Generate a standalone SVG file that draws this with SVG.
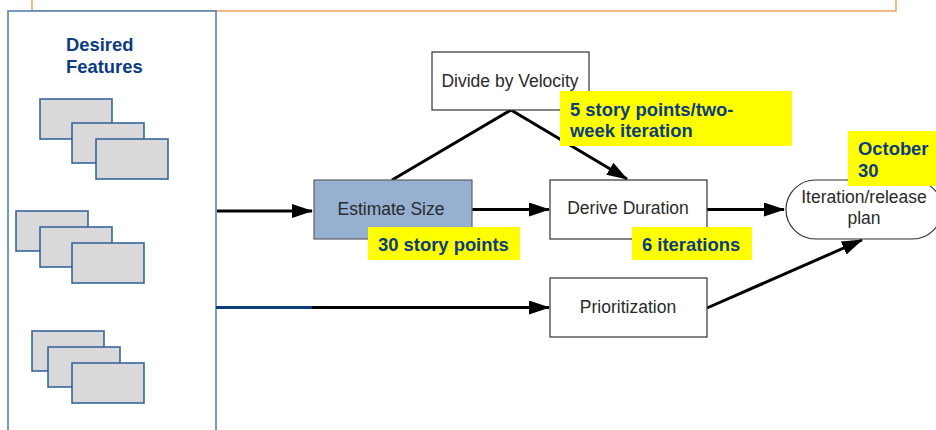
<svg xmlns="http://www.w3.org/2000/svg" width="936" height="430" viewBox="0 0 936 430">
<style>
.node{fill:#fff;stroke:#333;stroke-width:1.2}
.ntxt{font-family:"Liberation Sans",Arial,sans-serif;font-size:17.5px;fill:#2a2a2a;text-anchor:middle}
.card{fill:#d9d9d9;stroke:#2d5d97;stroke-width:1.5}
.lbl{fill:#ffff00}
.ltxt{font-family:"Liberation Sans",Arial,sans-serif;font-size:18.4px;font-weight:bold;fill:#0b3d7e}
.conn{stroke:#000;stroke-width:3;fill:none}
</style>
<defs>
<marker id="arr" markerUnits="userSpaceOnUse" markerWidth="22" markerHeight="16" refX="20" refY="7" orient="auto">
<path d="M0,0 L21,7 L0,14 z" fill="#000"/>
</marker>
</defs>
<rect width="936" height="430" fill="#fff"/>
<rect id="topbox" x="32" y="-10" width="864" height="21" fill="none" stroke="#f4a35f" stroke-width="1.5"/>
<g id="features">
<rect x="8" y="11" width="208" height="440" fill="#fff" stroke="#4a78ab" stroke-width="1.5"/>
<text class="ltxt" x="66" y="51">Desired</text>
<text class="ltxt" x="66" y="73">Features</text>
<rect class="card" x="40" y="99" width="72" height="40"/>
<rect class="card" x="72" y="123" width="72" height="40"/>
<rect class="card" x="96" y="139" width="72" height="40"/>
<rect class="card" x="16" y="211" width="72" height="40"/>
<rect class="card" x="40" y="227" width="72" height="40"/>
<rect class="card" x="72" y="243" width="72" height="40"/>
<rect class="card" x="32" y="331" width="72" height="40"/>
<rect class="card" x="48" y="347" width="72" height="40"/>
<rect class="card" x="72" y="363" width="72" height="40"/>
</g>
<g id="connectors">
<line class="conn" x1="217" y1="211" x2="312" y2="211" marker-end="url(#arr)"/>
<line x1="216" y1="307.5" x2="312" y2="307.5" stroke="#0b3d7e" stroke-width="3"/>
<line class="conn" x1="312" y1="307.5" x2="549" y2="307.5" marker-end="url(#arr)"/>
<line class="conn" x1="392" y1="180" x2="511" y2="110"/>
<line class="conn" x1="511" y1="110" x2="627" y2="179" marker-end="url(#arr)"/>
<line class="conn" x1="471" y1="209.5" x2="549" y2="209.5" marker-end="url(#arr)"/>
<line class="conn" x1="707" y1="209.5" x2="784" y2="209.5" marker-end="url(#arr)"/>
<line class="conn" x1="707" y1="308" x2="862" y2="240" marker-end="url(#arr)"/>
</g>
<g id="estimate">
<rect x="314" y="180" width="158" height="59" fill="#95b0d1" stroke="#606060" stroke-width="1.2"/>
<text class="ntxt" x="391" y="215">Estimate Size</text>
</g>
<g id="velocity">
<rect class="node" x="432" y="52" width="157" height="58"/>
<text class="ntxt" x="510" y="87">Divide by Velocity</text>
</g>
<g id="duration">
<rect class="node" x="550" y="180" width="157" height="59"/>
<text class="ntxt" x="628" y="214">Derive Duration</text>
</g>
<g id="prioritization">
<rect class="node" x="550" y="278" width="157" height="59"/>
<text class="ntxt" x="628" y="313">Prioritization</text>
</g>
<g id="plan">
<rect class="node" x="786" y="180" width="156" height="59" rx="29.5" ry="29.5" stroke="#555"/>
<text class="ntxt" x="864" y="203">Iteration/release</text>
<text class="ntxt" x="864" y="224">plan</text>
</g>
<g id="label-points">
<rect class="lbl" x="368" y="227" width="152" height="33"/>
<text class="ltxt" x="378" y="251">30 story points</text>
</g>
<g id="label-iterations">
<rect class="lbl" x="632" y="227" width="120" height="33"/>
<text class="ltxt" x="642" y="251">6 iterations</text>
</g>
<g id="label-velocity">
<rect class="lbl" x="560" y="91" width="232" height="55"/>
<text class="ltxt" x="570" y="116">5 story points/two-</text>
<text class="ltxt" x="570" y="137">week iteration</text>
</g>
<g id="label-date">
<rect class="lbl" x="848" y="131" width="92" height="55"/>
<text class="ltxt" x="858" y="155">October</text>
<text class="ltxt" x="858" y="177">30</text>
</g>
</svg>
